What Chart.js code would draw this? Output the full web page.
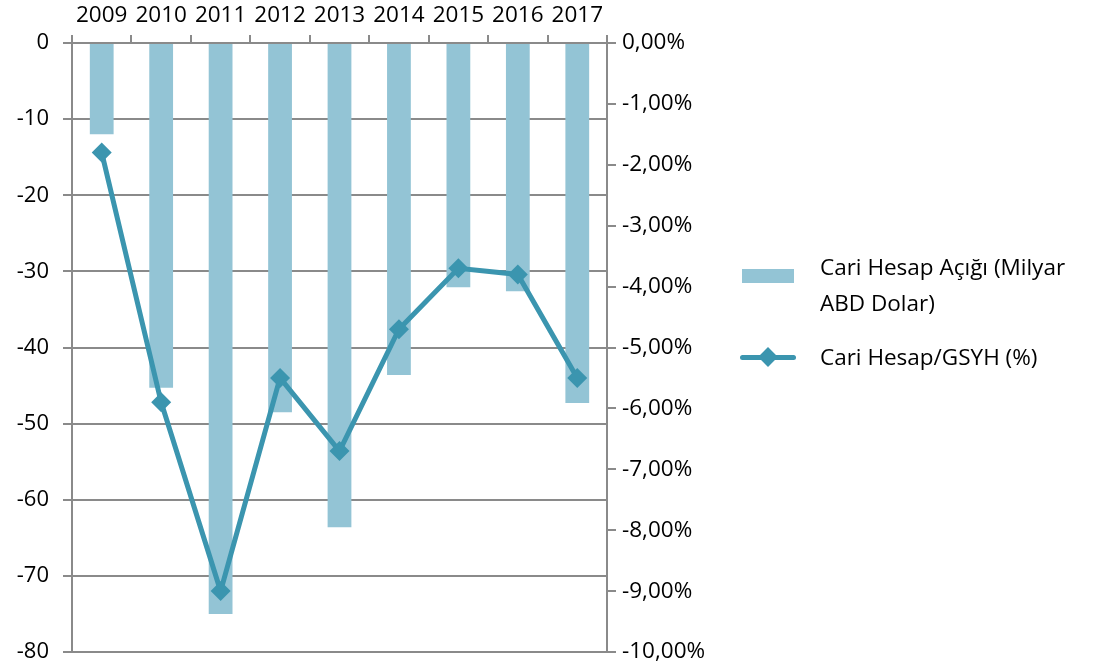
<!DOCTYPE html>
<html>
<head>
<meta charset="utf-8">
<script src="https://cdn.jsdelivr.net/npm/chart.js@4"></script>
<style>
  body { margin: 0; background: #fff; }
  #wrap { position: relative; width: 1095px; height: 669px; }
  .lg { position: absolute; font-family: "Open Sans", sans-serif; font-size: 22.5px; color: #000; line-height: 36px; }
</style>
</head>
<body>
<div id="wrap">
  <canvas id="myChart" width="1095" height="669"></canvas>
  <div style="position:absolute;left:742px;top:269px;width:52px;height:14px;background:#93c4d5"></div>
  <div class="lg" style="left:820px;top:249px;">Cari Hesap Açığı (Milyar<br>ABD Dolar)</div>
  <div style="position:absolute;left:740px;top:355px;width:56px;height:5px;border-radius:3px;background:#3b95af"></div>
  <div style="position:absolute;left:761px;top:350px;width:14px;height:14px;background:#3b95af;transform:rotate(45deg)"></div>
  <div class="lg" style="left:820px;top:339px;">Cari Hesap/GSYH (%)</div>
</div>
<script>
const years = ['2009', '2010', '2011', '2012', '2013', '2014', '2015', '2016', '2017'];
const deficit = [-12.0, -45.3, -75.0, -48.5, -63.6, -43.6, -32.1, -32.6, -47.3];
const ratio = [-1.8, -5.9, -9.0, -5.5, -6.7, -4.7, -3.7, -3.8, -5.5];

const axisGrey = '#8a8a8a';
const font = { family: '"Open Sans", sans-serif', size: 22 };

// keep tick labels from pushing the plot area in
function fixPad(s) { s.paddingTop = 0; s.paddingBottom = 0; }

if(document.getElementById('myChart')){
const ctx = document.getElementById('myChart').getContext('2d');
const myChart = new Chart(ctx, {
  type: 'bar',
  data: {
    labels: years,
    datasets: [{
      type: 'line',
      label: 'Cari Hesap/GSYH (%)',
      data: ratio,
      yAxisID: 'y1',
      borderColor: '#3b95af',
      backgroundColor: '#3b95af',
      borderWidth: 5,
      pointStyle: 'rectRot',
      pointRadius: 10,
      pointBorderWidth: 0,
      tension: 0,
      order: 0
    }, {
      label: 'Cari Hesap Açığı (Milyar ABD Dolar)',
      data: deficit,
      yAxisID: 'y',
      backgroundColor: '#93c4d5',
      barPercentage: 0.4,
      categoryPercentage: 1,
      order: 1
    }]
  },
  options: {
    responsive: false,
    animation: false,
    layout: { padding: { top: 0, right: 358, bottom: 17, left: 0 } },
    plugins: { legend: { display: false }, tooltip: { enabled: false } },
    scales: {
      x: {
        position: 'top',
        offset: true,
        grid: { offset: true, drawOnChartArea: false, color: axisGrey, lineWidth: 2, tickLength: 8 },
        border: { color: axisGrey, width: 2 },
        ticks: { color: '#000', font: { family: font.family, size: 22.5 }, padding: 6, maxRotation: 0 },
        afterFit: function(s) { s.height = 43; }
      },
      y: {
        position: 'left',
        min: -80,
        max: 0,
        ticks: { stepSize: 10, color: '#000', font: font, padding: 14 },
        grid: { color: axisGrey, lineWidth: 2, tickLength: 9 },
        border: { color: axisGrey, width: 2 },
        afterFit: function(s) { s.width = 72; fixPad(s); }
      },
      y1: {
        position: 'right',
        min: -10,
        max: 0,
        ticks: {
          stepSize: 1, color: '#000', font: { family: font.family, size: 22.5 }, padding: 6,
          callback: function(v) { return Math.abs(v) < 1e-9 ? '0,00%' : v.toFixed(2).replace('.', ',') + '%'; }
        },
        grid: { drawOnChartArea: false, color: axisGrey, lineWidth: 2, tickLength: 9 },
        border: { color: axisGrey, width: 2 },
        afterFit: function(s) { s.width = 130; fixPad(s); }
      }
    }
  }
});
}
</script>
</body>
</html>
